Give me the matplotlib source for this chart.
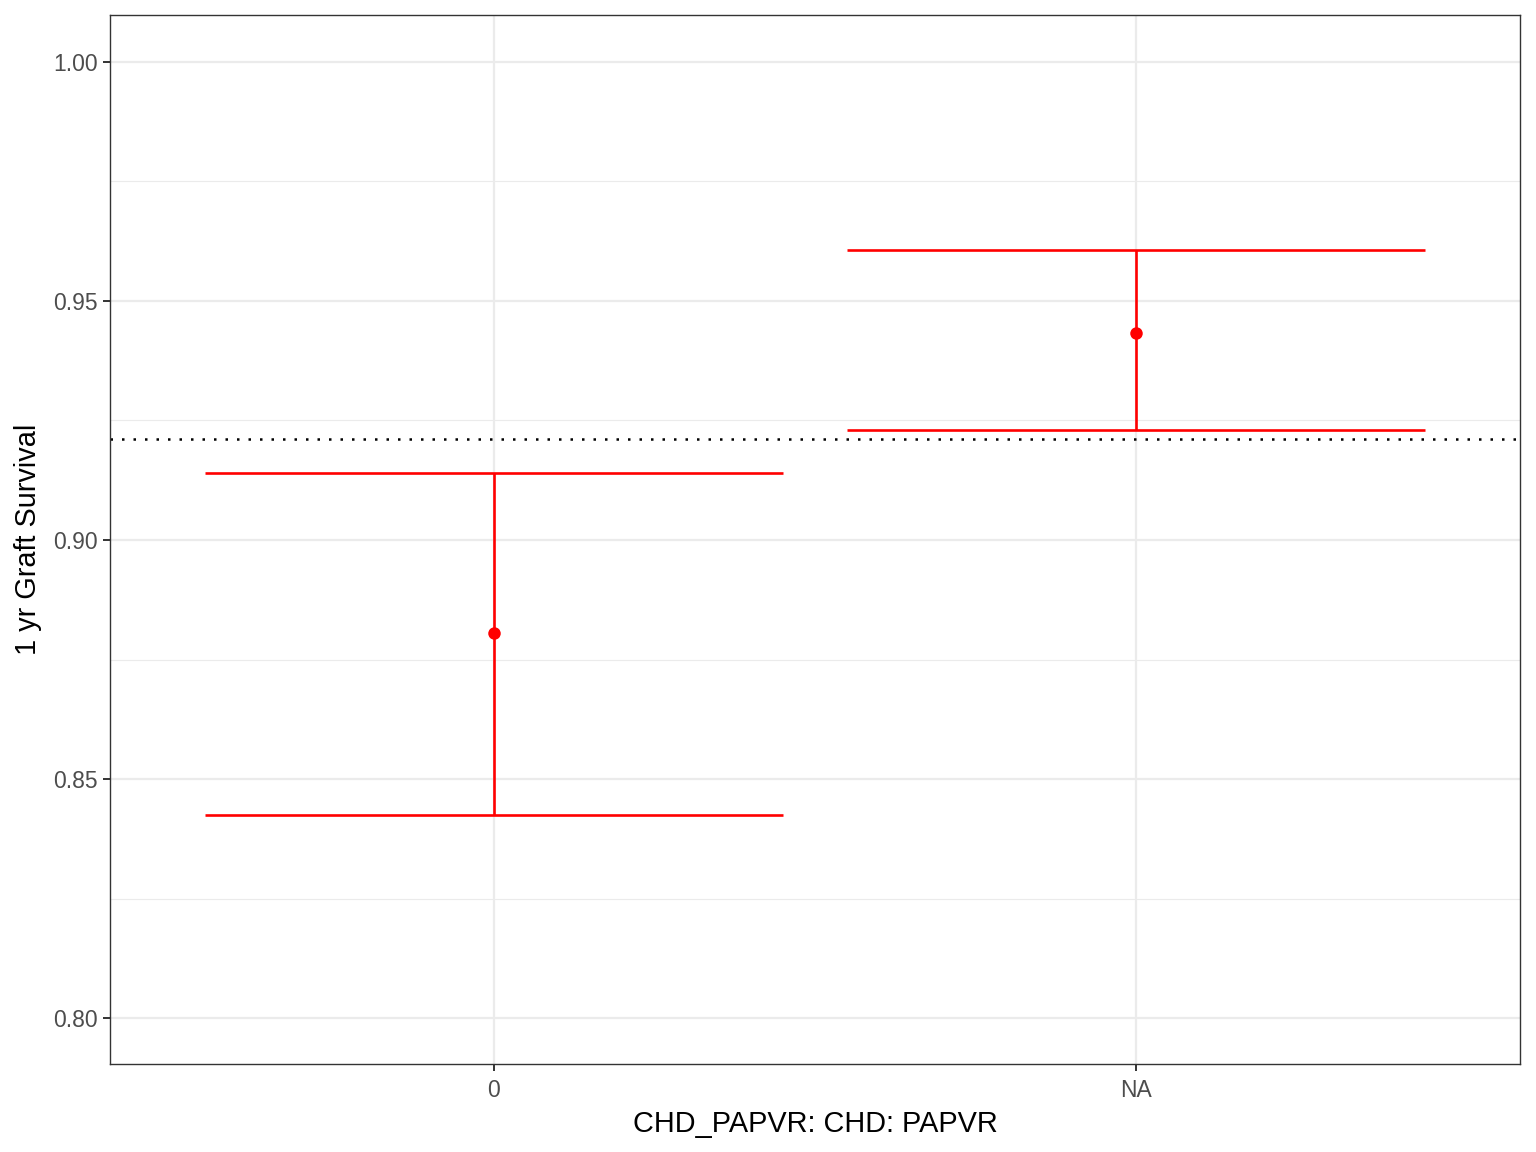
import matplotlib
matplotlib.use("Agg")
import matplotlib.pyplot as plt
import numpy as np

# data
categories = ["0", "NA"]
survival = [0.8805, 0.9433]
lower_ci = [0.8425, 0.9230]
upper_ci = [0.9140, 0.9607]
overall = 0.9211
yticks = [0.80, 0.85, 0.90, 0.95, 1.00]

plt.rcParams['font.family'] = ['Liberation Sans', 'DejaVu Sans']

fig = plt.figure(figsize=(15.36, 11.52), dpi=100)
ax = fig.add_axes([110/1536, 1 - 1064/1152, 1410/1536, 1049/1152])

x = np.arange(1, len(categories) + 1)
surv = np.array(survival)
lo = np.array(lower_ci)
hi = np.array(upper_ci)

# grid lines like ggplot theme_bw
ax.set_axisbelow(True)
ax.grid(True, which="major", color="#EBEBEB", lw=1.6)
ax.set_yticks(np.arange(0.825, 1.0, 0.05), minor=True)
ax.grid(True, which="minor", axis="y", color="#EBEBEB", lw=0.8)
ax.tick_params(which="minor", left=False)

# error bars
ax.errorbar(x, surv, yerr=[surv - lo, hi - surv], fmt="none", ecolor="red",
            elinewidth=1.9, capsize=0, zorder=3)
for xi, l, h in zip(x, lo, hi):
    ax.hlines([l, h], xi - 0.45, xi + 0.45, color="red", lw=1.9, zorder=3)
ax.plot(x, surv, "o", color="red", ms=9, mew=0, zorder=4)

# overall survival reference line
ax.axhline(overall, color="black", ls=(0, (1, 3.6)), lw=1.8, zorder=2)

ax.set_xlim(0.402, 2.598)
ax.set_ylim(0.7904, 1.0098)
ax.set_xticks(x)
ax.set_xticklabels(categories)
ax.set_yticks(yticks)
ax.set_yticklabels([f"{v:.2f}" for v in yticks])
ax.tick_params(axis="both", which="major", labelsize=16.5, labelcolor="#4D4D4D",
               color="#333333", length=5, width=1.4, pad=3.5)
ax.tick_params(axis="x", which="major", pad=5.5)

for s in ax.spines.values():
    s.set_color("#333333")
    s.set_linewidth(1)

ax.set_xlabel("CHD_PAPVR: CHD: PAPVR", fontsize=20.8, labelpad=6)
ax.set_ylabel("1 yr Graft Survival", fontsize=20.8, labelpad=8)

fig.savefig("out.png", dpi=100)
